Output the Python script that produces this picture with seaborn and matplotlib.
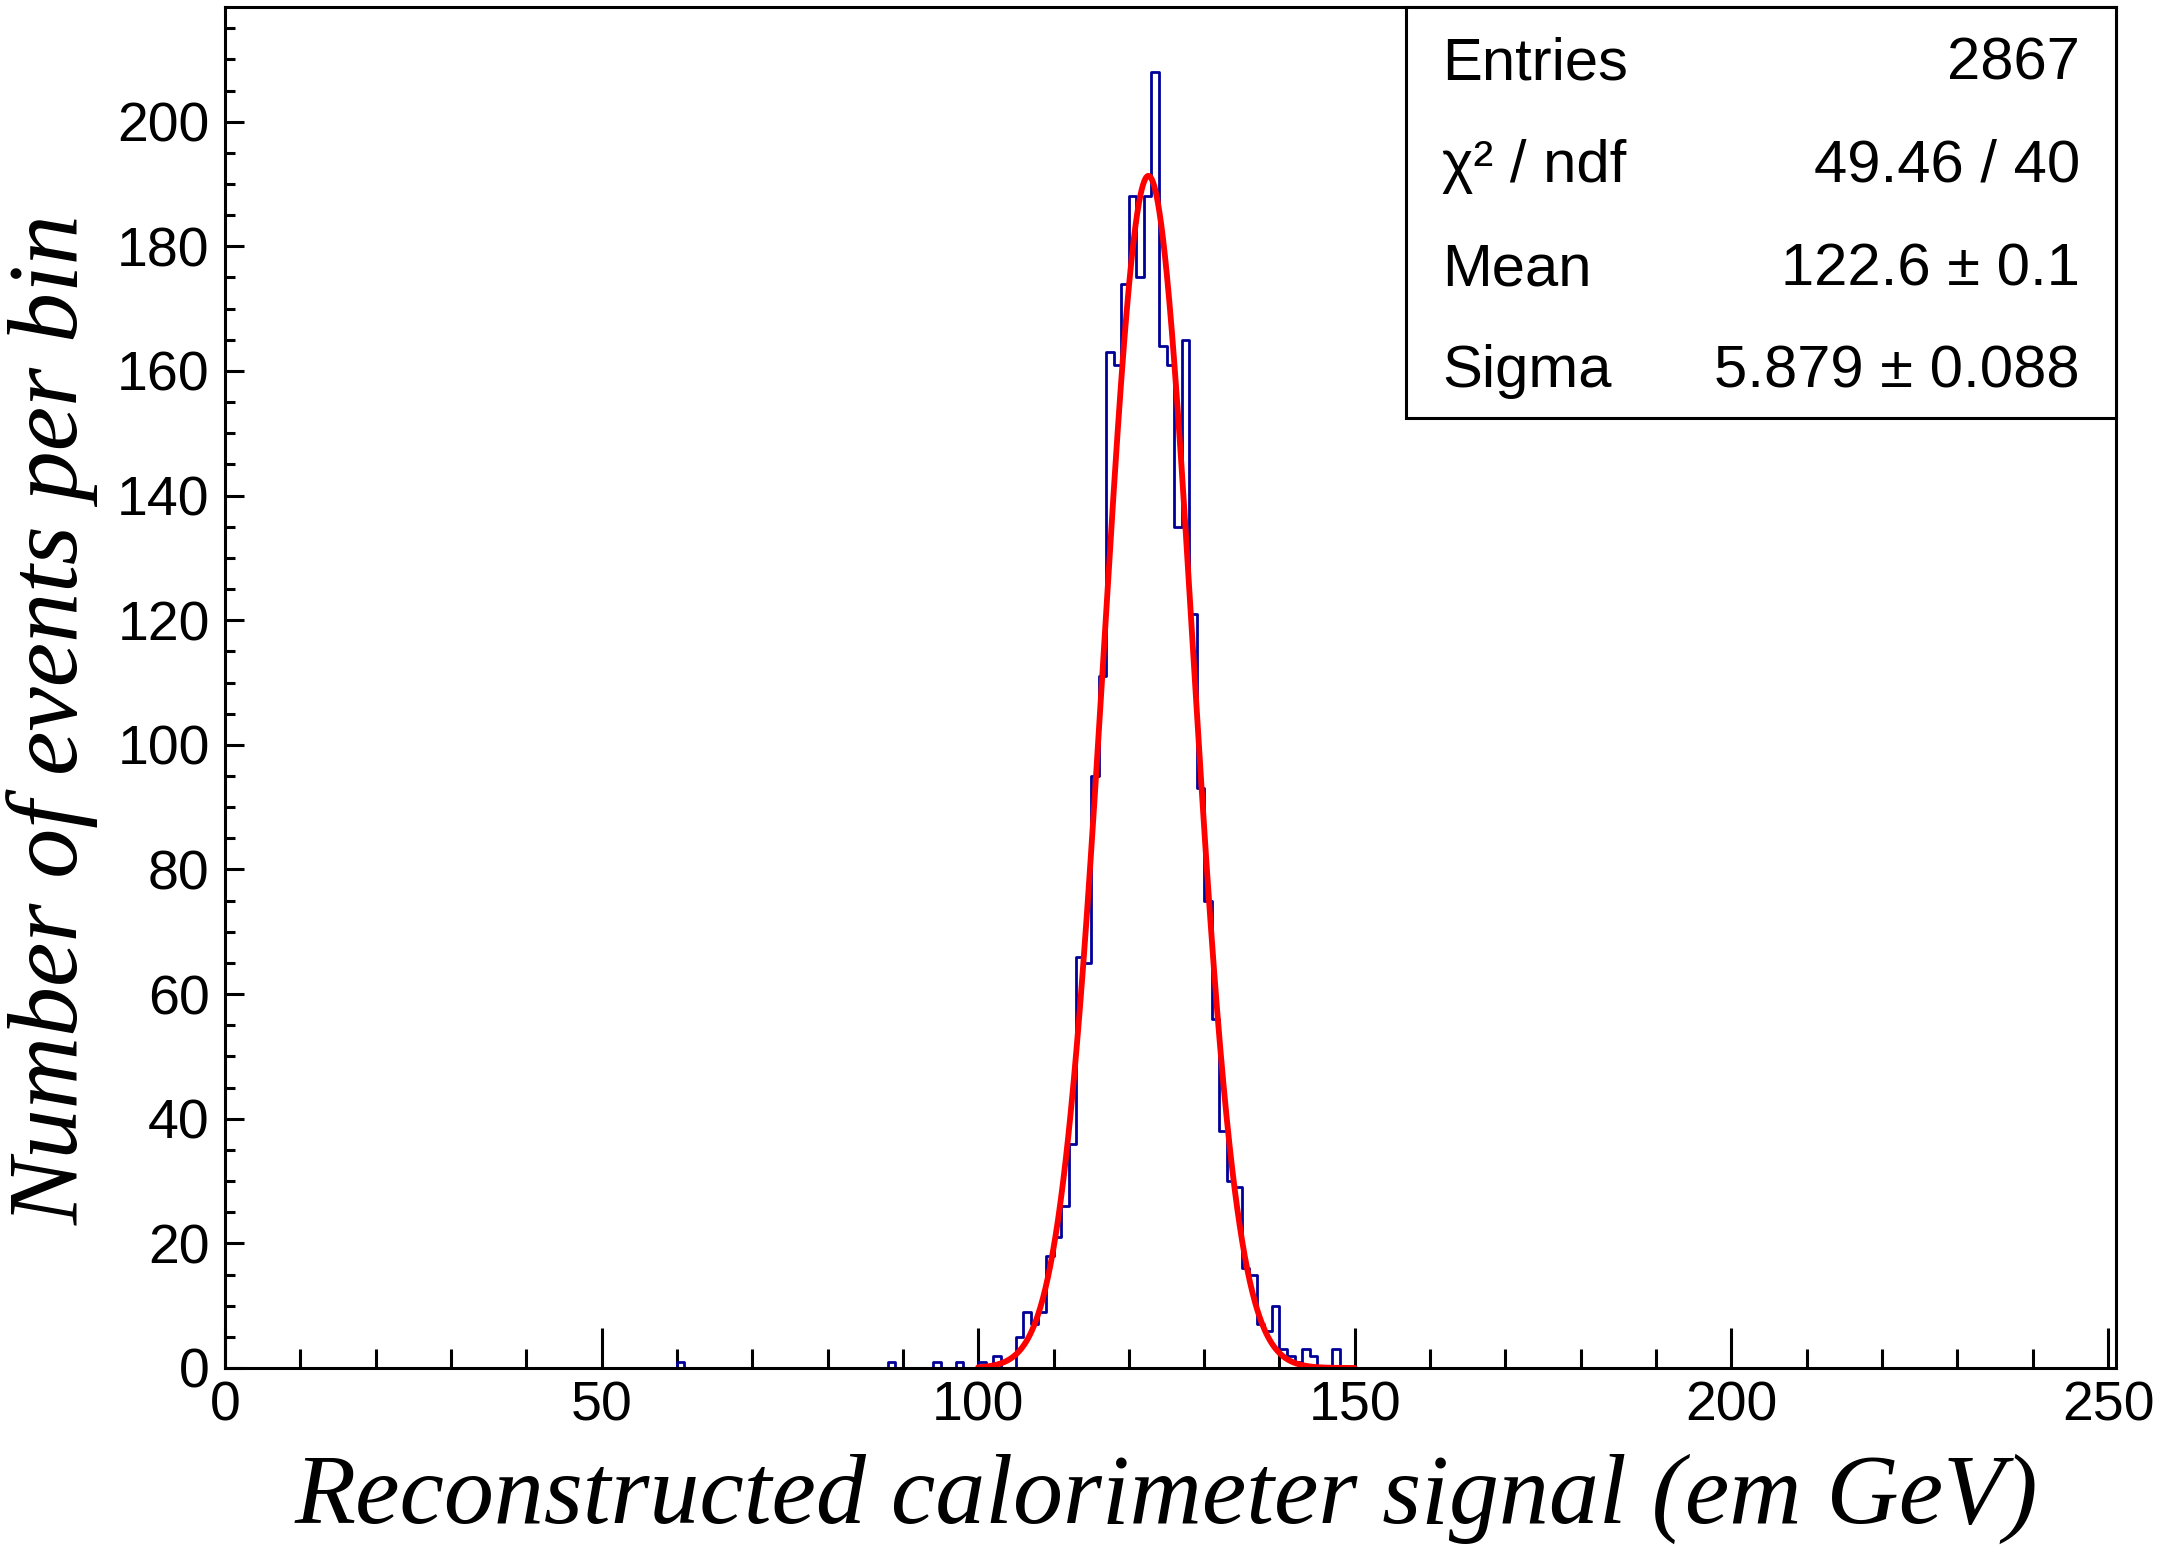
import numpy as np
import pandas as pd
import matplotlib
matplotlib.use("Agg")
import matplotlib.pyplot as plt
from matplotlib.patches import Rectangle
from matplotlib.ticker import MultipleLocator
import seaborn as sns

# histogram contents (lower bin edge, bin width 1)
bin_lo = [60, 88, 94, 97, 100, 102,
          105, 106, 107, 108, 109, 110, 111, 112,
          113, 114, 115, 116, 117, 118, 119,
          120, 121, 122, 123, 124, 125, 126,
          127, 128, 129, 130, 131, 132, 133, 134,
          135, 136, 137, 138, 139, 140, 141, 142, 143, 144, 147]
counts = [1, 1, 1, 1, 1, 2,
          5, 9, 7, 9, 18, 21, 26, 36,
          66, 65, 95, 111, 163, 161, 174,
          188, 175, 188, 208, 164, 161, 135,
          165, 121, 93, 75, 56, 38, 30, 29,
          16, 15, 7, 6, 10, 3, 2, 1, 3, 2, 3]

# gaussian fit parameters (from the stats box)
fit_const = 191.3
fit_mean = 122.6
fit_sigma = 5.879
fit_range = (100, 150)

stat_names = ["Entries", "\u03c7\u00b2 / ndf", "Mean", "Sigma"]
stat_values = ["2867", "49.46 / 40", "122.6 \u00b1 0.1", "5.879 \u00b1 0.088"]

sns.set_style("ticks")
plt.rcParams['font.family'] = ['Liberation Sans', 'DejaVu Sans']
plt.rcParams['text.color'] = 'black'
plt.rcParams['xtick.labelcolor'] = 'black'
plt.rcParams['ytick.labelcolor'] = 'black'

W, H = 2162, 1563
fig = plt.figure(figsize=(W / 100, H / 100), dpi=100)
ax = fig.add_axes([225 / W, 1 - 1368 / H, (2116 - 225) / W, (1368 - 7) / H])

df = pd.DataFrame({"x": np.array(bin_lo) + 0.5, "n": np.array(counts, dtype=float)})
sns.histplot(data=df, x="x", weights="n", binwidth=1, binrange=(0, 250),
             element="step", fill=False, color="#000099", linewidth=2.0, ax=ax)

xs = np.linspace(fit_range[0], fit_range[1], 600)
ys = fit_const * np.exp(-0.5 * ((xs - fit_mean) / fit_sigma) ** 2)
sns.lineplot(x=xs, y=ys, color="red", linewidth=4.2, ax=ax)

ax.set_xlim(0, 251.06)
ax.set_ylim(0, 218.4)
ax.set_xlabel("")
ax.set_ylabel("")

ax.xaxis.set_major_locator(MultipleLocator(50))
ax.xaxis.set_minor_locator(MultipleLocator(10))
ax.yaxis.set_major_locator(MultipleLocator(20))
ax.yaxis.set_minor_locator(MultipleLocator(5))
ax.tick_params(axis="both", which="both", direction="in", width=2.2, color="black",
               labelcolor="black", labelsize=40, top=False, right=False)
ax.tick_params(axis="x", which="major", length=29, pad=9)
ax.tick_params(axis="x", which="minor", length=14)
ax.tick_params(axis="y", which="major", length=14, pad=11)
ax.tick_params(axis="y", which="minor", length=7)
for sp in ax.spines.values():
    sp.set_visible(True)
    sp.set_linewidth(2.2)
    sp.set_color("black")
    sp.set_zorder(5)

# axis titles
fig.text(2038 / W, 1 - 1523 / H, "Reconstructed calorimeter signal (em GeV)",
         family=["Liberation Serif", "DejaVu Serif"], style="italic", fontsize=72,
         color="black", ha="right", va="baseline")
fig.text(78 / W, 1 - 214 / H, "Number of events per bin",
         family=["Liberation Serif", "DejaVu Serif"], style="italic", fontsize=72,
         color="black", ha="right", va="baseline", rotation=90, rotation_mode="anchor")

# stats box
fig.patches.append(Rectangle((1406 / W, 1 - 418 / H), (2116 - 1406) / W, (418 - 7) / H,
                             transform=fig.transFigure, facecolor="white",
                             edgecolor="black", linewidth=2.2, zorder=10))
baselines = [80, 182, 285, 387]
for name, val, yb in zip(stat_names, stat_values, baselines):
    fig.text(1442 / W, 1 - yb / H, name, fontsize=43, color="black",
             ha="left", va="baseline", zorder=11)
    fig.text(2080 / W, 1 - yb / H, val, fontsize=43, color="black",
             ha="right", va="baseline", zorder=11)

fig.savefig("out.png", dpi=100)
